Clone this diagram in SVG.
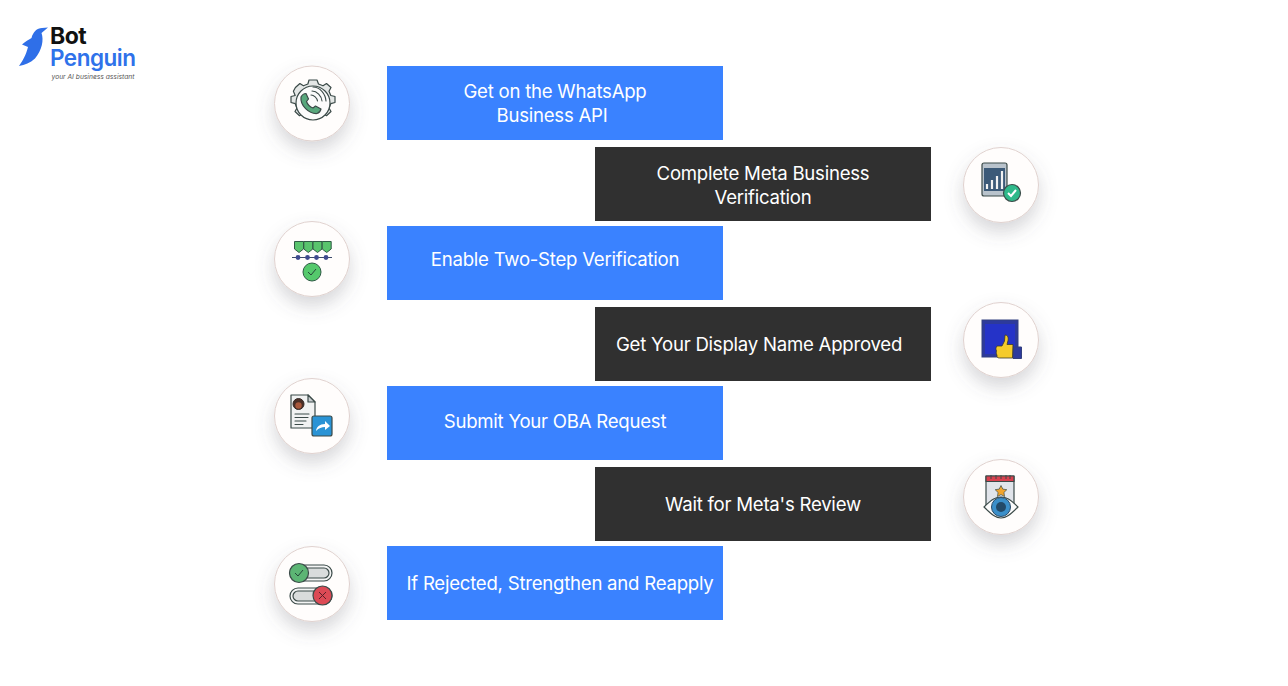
<svg xmlns="http://www.w3.org/2000/svg" width="1288" height="686" viewBox="0 0 1288 686">
<style>
.box{fill:#3a82ff}
.dark{fill:#303030}
.lbl{font-family:Inter,"Liberation Sans",sans-serif;font-size:18.6px;letter-spacing:-.24px;fill:#fff;text-anchor:middle}
.disc{fill:#fffdfc;stroke:#e0d2cf;stroke-width:1;filter:url(#sh)}
.k{stroke:#3b4a48;stroke-width:1.2;stroke-linejoin:round}
.t{fill:none;stroke:#3b4a48;stroke-width:1.1;stroke-linecap:round}
</style>
<defs>
<filter id="sh" x="-60%" y="-60%" width="220%" height="240%"><feDropShadow dx="0" dy="9" stdDeviation="9" flood-color="#5a5a6a" flood-opacity=".25"/></filter>
<path id="shield" d="M0 0h9v7.500l-4.500 3.500l-4.500-3.500z" fill="#59c46d" stroke="#2f5a45" stroke-width="1"/>
</defs>
<rect width="1288" height="686" fill="#fff"/>

<g id="logo">
<path d="M48 27.500L41.500 33C44 40 42 50 35 58.500C30 63 25 65 19 66C23 60 26 55 28 47L22 44.500C26 41 29 39.500 31.500 38C33 32 37 28 42 28Z" fill="#2f6fe8"/>
<text x="50" y="44" font-family="Inter,'Liberation Sans',sans-serif" font-size="23" font-weight="700" letter-spacing="-.5" fill="#111">Bot</text>
<text x="50" y="66" font-family="Inter,'Liberation Sans',sans-serif" font-size="22.500" font-weight="600" letter-spacing="-.5" fill="#2f72ea">Penguin</text>
<text x="51.500" y="79" font-family="Inter,'Liberation Sans',sans-serif" font-size="6.700" font-style="italic" fill="#555">your AI business assistant</text>
</g>

<g id="step1"><rect class="box" x="387" y="66" width="336" height="74"/>
<text class="lbl" x="555" y="98">Get on the WhatsApp</text><text class="lbl" x="552" y="122">Business API</text>
<circle class="disc" cx="312" cy="103.500" r="37.500"/>
<path d="M309 80h8l1.500 4 4.500 1.800 3.500-2.300 4.500 4-2 3.700 1.800 4.300 4.200 1v6l-4.200 1.200-1.800 4.300 2 3.500-4.500 4.200-3.500-2.300-4.500 1.800-1.500 4h-8l-1.500-4-4.500-1.800-3.500 2.300-4.500-4.200 2-3.500-1.800-4.300-4.200-1.200v-6l4.200-1-1.800-4.300 2-3.700 4.500-4 3.500 2.300 4.500-1.800z" fill="#e4e7e6" class="k"/>
<circle cx="313" cy="103" r="17" fill="#fbfbfb" class="k"/>
<path d="M301 97c1-2 3-3.500 5-3.500l2.500 5.500-2 2.500c1 3 3.500 5.500 6.500 6.500l2.500-2 5.500 3c-.5 2-2 4-4 4.500c-8 .5-17-8-16-16.500z" fill="#57a77c" class="k"/>
<path class="t" d="M311 95c3 0 6 3 6.500 6M312 91c5 0 9.500 5 10 10M313 87c7 0 12.500 7 13 14"/>
</g>

<g id="step2"><rect class="dark" x="595" y="147" width="336" height="74"/>
<text class="lbl" x="763" y="180">Complete Meta Business</text><text class="lbl" x="763" y="204">Verification</text>
<circle class="disc" cx="1001" cy="185" r="37.500"/>
<rect x="982" y="163" width="25" height="33" rx="2" fill="#b9c3cc" class="k"/>
<rect x="984" y="168" width="21" height="23" fill="#3c5a78"/>
<path d="M987 184v5M992 180v9M997 176v13M1002 171v18" stroke="#f2f2f2" stroke-width="2.200" fill="none"/>
<circle cx="1012" cy="193" r="8.500" fill="#2fb98a" class="k"/>
<path d="M1008 193l3 3 5-6" fill="none" stroke="#fff" stroke-width="2"/>
</g>

<g id="step3"><rect class="box" x="387" y="226" width="336" height="74"/>
<text class="lbl" x="555" y="266">Enable Two-Step Verification</text>
<circle class="disc" cx="312" cy="259" r="37.500"/>
<use href="#shield" x="294.500" y="241.500"/><use href="#shield" x="303.800" y="241.500"/><use href="#shield" x="313" y="241.500"/><use href="#shield" x="322.200" y="241.500"/>
<path d="M292 257.500h40" stroke="#3b4a6a" stroke-width="1"/>
<g fill="#3f4a8f"><circle cx="298" cy="257.500" r="2.400"/><circle cx="307.500" cy="257.500" r="2.400"/><circle cx="316.500" cy="257.500" r="2.400"/><circle cx="326" cy="257.500" r="2.400"/></g>
<circle cx="312" cy="272" r="9" fill="#55c96c" stroke="#2f5a45"/>
<path d="M308 272l3 3 5-6" fill="none" stroke="#26483a" stroke-width="1"/>
</g>

<g id="step4"><rect class="dark" x="595" y="307" width="336" height="74"/>
<text class="lbl" x="759" y="351">Get Your Display Name Approved</text>
<circle class="disc" cx="1001" cy="340" r="37.500"/>
<rect x="982" y="320" width="36" height="37" fill="#2d3a9c" stroke="#33407f"/>
<rect x="985" y="324" width="30" height="30" fill="#2533c8"/>
<path d="M1013 347h8.500v11.500h-8.500z" fill="#2d3a9c" stroke="#33407f"/>
<path d="M997 346h5l2.500-5 .5-6c3 0 3.500 3 3 5.500l-1 4h6l-.5 13.500h-13c-2 0-3-1-2.500-3c-1-1-1-3-.5-4c-.8-1.500-.8-3.500.5-5z" fill="#f4cb2c" stroke="#3a3a2a" stroke-width=".8"/>
</g>

<g id="step5"><rect class="box" x="387" y="386" width="336" height="74"/>
<text class="lbl" x="555" y="428">Submit Your OBA Request</text>
<circle class="disc" cx="312" cy="416" r="37.500"/>
<path d="M291 395h17l7 7v26h-24z" fill="#f1f2f2" class="k"/>
<path d="M308 395v7h7z" fill="#c9cdd0" class="k"/>
<circle cx="298.500" cy="404" r="5.500" fill="#4a2e26" stroke="#352a26"/>
<circle cx="298.500" cy="405.500" r="3.200" fill="#a8583c"/>
<path class="t" d="M295 414h14M295 417.500h13M295 421h11M295 424.500h8"/>
<rect x="312" y="416" width="20" height="20" rx="2" fill="#2a93d5" class="k"/>
<path d="M316 431c.5-4 3.500-7 9-7v-3l5 5-5 4v-3c-3.500 0-6 1-9 4z" fill="#fff"/>
</g>

<g id="step6"><rect class="dark" x="595" y="467" width="336" height="74"/>
<text class="lbl" x="763" y="511">Wait for Meta's Review</text>
<circle class="disc" cx="1001" cy="497" r="37.500"/>
<rect x="986" y="476" width="28" height="30" fill="#e1e4ea" class="k"/>
<rect x="986" y="476" width="28" height="5.500" fill="#d9414f" class="k"/>
<path d="M991 475v4M996 475v4M1001 475v4M1006 475v4M1010 475v4" stroke="#3b4a48" stroke-width="1"/>
<path d="M1001 485.500l1.800 3.600 4 .6-2.900 2.800.7 4-3.600-1.900-3.600 1.900.7-4-2.900-2.800 4-.6z" fill="#f2a42c" stroke="#3b4a48" stroke-width=".7"/>
<path d="M984 507c8-8 12-10 17-10s9 2 17 10c-8 8-12 11-17 11s-9-3-17-11z" fill="#fbfbfb" class="k"/>
<circle cx="1001" cy="507" r="9.500" fill="#3b8fc9" stroke="#2a4a66"/>
<circle cx="1001" cy="507" r="5" fill="#234a68"/>
</g>

<g id="step7"><rect class="box" x="387" y="546" width="336" height="74"/>
<text class="lbl" x="560" y="590">If Rejected, Strengthen and Reapply</text>
<circle class="disc" cx="312" cy="584" r="37.500"/>
<rect x="290" y="565" width="42" height="16" rx="8" fill="#f4f5f5" class="k"/>
<rect x="293" y="568" width="36" height="10" rx="5" fill="#d9dcdc" class="k"/>
<rect x="290" y="588" width="42" height="16" rx="8" fill="#f4f5f5" class="k"/>
<rect x="293" y="591" width="36" height="10" rx="5" fill="#d9dcdc" class="k"/>
<circle cx="299" cy="573" r="9.500" fill="#5cb574" class="k"/>
<path d="M295 573l3 3 5-6" fill="none" stroke="#26483a" stroke-width="1"/>
<circle cx="322.500" cy="595.500" r="9.500" fill="#dc4a55" class="k"/>
<path d="M319 592l7 7M326 592l-7 7" stroke="#5a2028" stroke-width="1"/>
</g>
</svg>
